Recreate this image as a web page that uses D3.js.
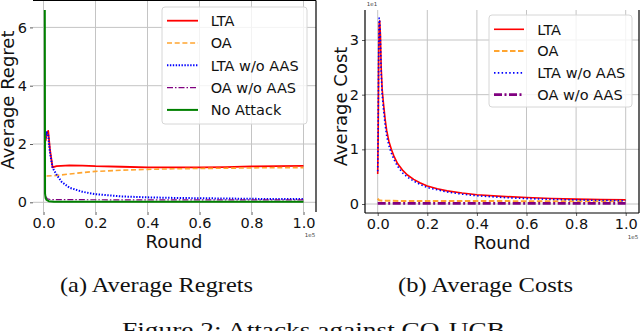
<!DOCTYPE html>
<html>
<head>
<meta charset="utf-8">
<script src="https://cdn.jsdelivr.net/npm/d3@7"></script>
<style>
body{margin:0;background:#fff}
svg text{font-family:"DejaVu Sans",sans-serif}
</style>
</head>
<body>
<svg id="fig" width="640" height="331"></svg>
<script>
// rounds are in units of 1e5, costs in units of 1e1 (as on the axes)
var xTicks = [0, 0.2, 0.4, 0.6, 0.8, 1.0]
var regretTicks = [0, 2, 4, 6]
var costTicks = [0, 1, 2, 3]

// (a) average regret
var ltaRegretX = [0.008, 0.012, 0.018, 0.025, 0.035, 0.05, 0.1, 0.15, 0.2, 0.3, 0.4, 0.5, 0.6, 0.7, 0.8, 0.9, 1.0]
var ltaRegretY = [2.1, 2.35, 2.45, 1.8, 1.2, 1.24, 1.27, 1.26, 1.24, 1.22, 1.2, 1.2, 1.2, 1.21, 1.23, 1.24, 1.25]
var oaRegretX = [0.012, 0.05, 0.1, 0.15, 0.2, 0.3, 0.4, 0.5, 0.6, 0.7, 0.8, 0.9, 1.0]
var oaRegretY = [0.9, 0.92, 0.97, 1.02, 1.06, 1.1, 1.13, 1.15, 1.16, 1.17, 1.18, 1.19, 1.19]
var ltaNoAasRegretX = [0.008, 0.012, 0.018, 0.025, 0.035, 0.05, 0.07, 0.1, 0.15, 0.2, 0.3, 0.4, 0.5, 0.6, 0.7, 0.8, 0.9, 1.0]
var ltaNoAasRegretY = [2.2, 2.4, 2.3, 1.7, 1.18, 0.95, 0.7, 0.5, 0.36, 0.28, 0.2, 0.17, 0.15, 0.14, 0.13, 0.12, 0.11, 0.11]
var oaNoAasRegretX = [0.008, 0.015, 0.03, 0.1, 0.5, 1.0]
var oaNoAasRegretY = [0.2, 0.12, 0.09, 0.09, 0.08, 0.08]
var noAttackRegretX = [0.005, 0.006, 0.008, 0.012, 0.02, 0.04, 1.0]
var noAttackRegretY = [6.6, 0.3, 0.15, 0.08, 0.04, 0.02, 0.02]

// (b) average cost
var ltaCostX = [0.0, 0.002, 0.004, 0.006, 0.008, 0.011, 0.014, 0.018, 0.023, 0.03, 0.036, 0.045, 0.055, 0.065, 0.08, 0.1, 0.12, 0.145, 0.17, 0.2, 0.24, 0.28, 0.34, 0.4, 0.5, 0.6, 0.7, 0.8, 0.9, 1.0]
var ltaCostY = [0.55, 1.3, 2.6, 3.3, 3.35, 3.1, 2.5, 2.1, 1.85, 1.55, 1.35, 1.15, 1.0, 0.88, 0.74, 0.62, 0.53, 0.45, 0.39, 0.33, 0.28, 0.24, 0.2, 0.17, 0.14, 0.12, 0.1, 0.09, 0.08, 0.075]
var ltaNoAasCostY = [0.6, 1.5, 2.8, 3.4, 3.35, 3.0, 2.4, 2.0, 1.75, 1.45, 1.25, 1.07, 0.93, 0.82, 0.69, 0.57, 0.49, 0.42, 0.36, 0.3, 0.26, 0.22, 0.18, 0.15, 0.12, 0.1, 0.085, 0.075, 0.065, 0.06]
var oaCostX = [0.0, 0.005, 0.02, 0.1, 1.0]
var oaCostY = [0.1, 0.07, 0.06, 0.055, 0.05]
var oaNoAasCostX = [0.0, 1.0]
var oaNoAasCostY = [0.01, 0.01]

var svg = d3.select("#fig")
svg.append("rect").attr("width",640).attr("height",331).attr("fill","#fff")

function zip(xs,ys){
    var out = []
    for(var i in xs){ out.push([xs[i],ys[i]]) }
    return out
}

var regretPanel = {
    frame:{left:33,right:316,top:0.5,bottom:212},
    x0:43.5, x1:303.5, yPx0:202.3, yPx1:27.4, yMax:6,
    yTicks:regretTicks, spines:["top","right"],
    ylabel:"Average Regret", ylabelX:13.5, ylabelY:100,
    xlabelX:174, xlabelY:248,
    offsetX:[310,236.5], multY:null,
    legend:{left:162,top:7,width:145,height:117,first:20.7,step:22.3,h0:167,h1:198,tx:210.7},
    series:[
        {name:"LTA", data:zip(ltaRegretX,ltaRegretY), color:"#ff0000", w:1.8, dash:null},
        {name:"OA", data:zip(oaRegretX,oaRegretY), color:"#ffa530", w:1.6, dash:"5,2.7"},
        {name:"LTA w/o AAS", data:zip(ltaNoAasRegretX,ltaNoAasRegretY), color:"#0000ff", w:2, dash:"1.4,1.5"},
        {name:"OA w/o AAS", data:zip(oaNoAasRegretX,oaNoAasRegretY), color:"#800080", w:1.2, dash:"6,2,1.5,2"},
        {name:"No Attack", data:zip(noAttackRegretX,noAttackRegretY), color:"#008000", w:2, dash:null}
    ]
}

var costPanel = {
    frame:{left:365,right:639,top:10,bottom:213},
    x0:377.7, x1:625.7, yPx0:204, yPx1:40, yMax:3,
    yTicks:costTicks, spines:["left","bottom","right"],
    ylabel:"Average Cost", ylabelX:347, ylabelY:106.5,
    xlabelX:502, xlabelY:248.5,
    offsetX:[633,238.5], multY:[372,6],
    legend:{left:489,top:15,width:143,height:92,first:29.3,step:21.8,h0:494,h1:524,tx:537.3},
    series:[
        {name:"LTA", data:zip(ltaCostX,ltaCostY), color:"#ff0000", w:1.6, dash:null},
        {name:"OA", data:zip(oaCostX,oaCostY), color:"#ffa530", w:2, dash:"5.5,2.5"},
        {name:"LTA w/o AAS", data:zip(ltaCostX,ltaNoAasCostY), color:"#0000ff", w:1.6, dash:"1.5,2.3"},
        {name:"OA w/o AAS", data:zip(oaNoAasCostX,oaNoAasCostY), color:"#800080", w:2.8, dash:"8,2.5,2,2.5"}
    ]
}

drawPanel(regretPanel)
drawPanel(costPanel)
drawCaptions()

function drawPanel(p){
    var f = p.frame
    var x = d3.scaleLinear().domain([0,1]).range([p.x0,p.x1])
    var y = d3.scaleLinear().domain([0,p.yMax]).range([p.yPx0,p.yPx1])
    var g = svg.append("g")

    // grid
    g.selectAll(".vgrid").data(xTicks).enter().append("line")
        .attr("x1",d=>x(d)).attr("x2",d=>x(d))
        .attr("y1",f.top).attr("y2",f.bottom)
        .attr("stroke","#c4c4c4").attr("stroke-width",1)
    g.selectAll(".hgrid").data(p.yTicks).enter().append("line")
        .attr("x1",f.left).attr("x2",f.right)
        .attr("y1",d=>y(d)).attr("y2",d=>y(d))
        .attr("stroke","#c4c4c4").attr("stroke-width",1)

    // axes (ticks + labels only, spines drawn below)
    var ax = g.append("g").attr("transform","translate(0,"+f.bottom+")")
        .call(d3.axisBottom(x).tickValues(xTicks).tickFormat(d3.format(".1f")).tickSize(3).tickPadding(2.7))
    var ay = g.append("g").attr("transform","translate("+f.left+",0)")
        .call(d3.axisLeft(y).tickValues(p.yTicks).tickFormat(d3.format("d")).tickSize(3).tickPadding(3))
    ;[ax,ay].forEach(function(a){
        a.select(".domain").remove()
        a.selectAll("line").attr("stroke","#333").attr("stroke-width",0.8)
        a.selectAll("text").attr("fill","#111").style("font-size","14.5px").style("font-family","DejaVu Sans")
    })

    // spines
    var sp = {
        top:[f.left,f.top,f.right,f.top],
        bottom:[f.left,f.bottom,f.right,f.bottom],
        left:[f.left,f.top,f.left,f.bottom],
        right:[f.right,f.top,f.right,f.bottom]
    }
    p.spines.forEach(function(s){
        var c = sp[s]
        g.append("line").attr("x1",c[0]).attr("y1",c[1]).attr("x2",c[2]).attr("y2",c[3])
            .attr("stroke","#000").attr("stroke-width",1.2)
    })

    // curves
    var line = d3.line().x(d=>x(d[0])).y(d=>y(d[1]))
    p.series.forEach(function(s){
        g.append("path").datum(s.data).attr("d",line)
            .attr("fill","none").attr("stroke",s.color).attr("stroke-width",s.w)
            .attr("stroke-dasharray",s.dash).attr("stroke-linejoin","round")
    })

    // axis labels
    g.append("text").attr("transform","translate("+p.ylabelX+","+p.ylabelY+") rotate(-90)")
        .attr("text-anchor","middle").style("font-size","18px").attr("fill","#111").text(p.ylabel)
    g.append("text").attr("x",p.xlabelX).attr("y",p.xlabelY)
        .attr("text-anchor","middle").style("font-size","18px").attr("fill","#111").text("Round")
    g.append("text").attr("x",p.offsetX[0]).attr("y",p.offsetX[1])
        .attr("text-anchor","middle").style("font-size","5.5px").attr("fill","#444").text("1e5")
    if(p.multY){
        g.append("text").attr("x",p.multY[0]).attr("y",p.multY[1])
            .attr("text-anchor","middle").style("font-size","5.5px").attr("fill","#444").text("1e1")
    }

    // legend
    var L = p.legend
    g.append("rect").attr("x",L.left).attr("y",L.top).attr("width",L.width).attr("height",L.height)
        .attr("rx",3).attr("fill","#fff").attr("fill-opacity",0.8)
        .attr("stroke","#d6d6d6").attr("stroke-width",1)
    var items = g.selectAll(".leg").data(p.series).enter().append("g")
        .attr("transform",(d,i)=>"translate(0,"+(L.first+i*L.step)+")")
    items.append("line").attr("x1",L.h0).attr("x2",L.h1).attr("y1",0).attr("y2",0)
        .attr("stroke",d=>d.color).attr("stroke-width",d=>d.w).attr("stroke-dasharray",d=>d.dash)
    items.append("text").attr("x",L.tx).attr("y",0).attr("dy","0.36em")
        .style("font-size","14.5px").attr("fill","#111").text(d=>d.name)
}

function drawCaptions(){
    var caps = [
        {t:"(a) Average Regrets", x:60, y:291.5, len:193},
        {t:"(b) Average Costs", x:398, y:291.5, len:175},
        {t:"Figure 2: Attacks against CO-UCB", x:122, y:337, len:383}
    ]
    svg.selectAll(".cap").data(caps).enter().append("text")
        .attr("x",d=>d.x).attr("y",d=>d.y)
        .attr("textLength",d=>d.len).attr("lengthAdjust","spacingAndGlyphs")
        .style("font-family","'Liberation Serif','Times New Roman',serif")
        .style("font-size","22px").attr("fill","#111").text(d=>d.t)
}
</script>
</body>
</html>
